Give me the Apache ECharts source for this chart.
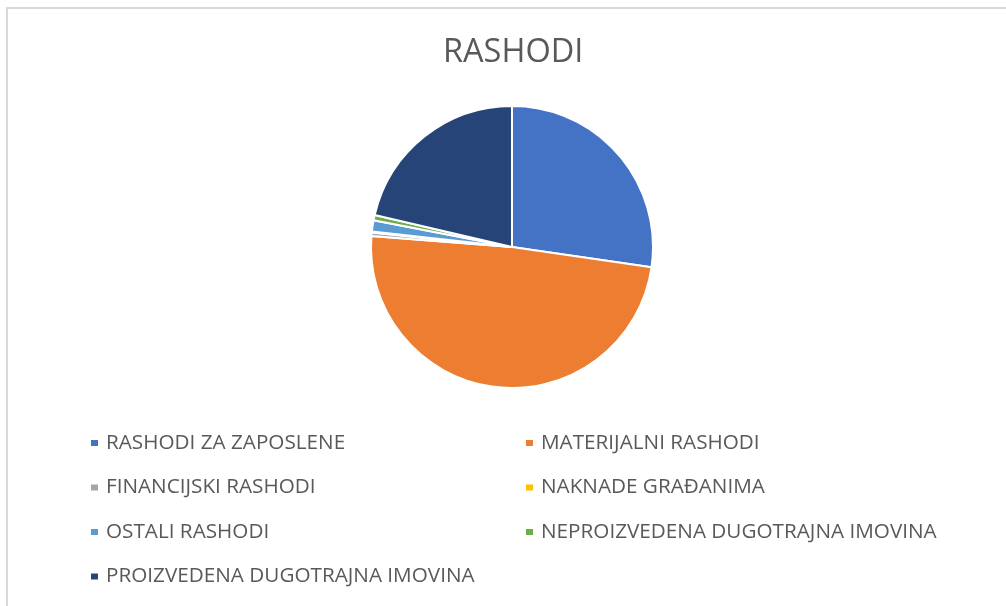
<!DOCTYPE html>
<html>
<head>
<meta charset="utf-8">
<script src="https://cdn.jsdelivr.net/npm/echarts@6/dist/echarts.min.js"></script>
<style>
	html, body { margin: 0; padding: 0; background: #fff; }
	#chart { width: 1006px; height: 606px; }
	.frame {
		position: absolute;
		left: 6px;
		top: 7px;
		right: 0;
		bottom: 0;
		border-left: 2px solid #d9d9d9;
		border-top: 2px solid #d9d9d9;
		pointer-events: none;
	}
</style>
</head>
<body>
<div id="chart"></div>
<div class="frame"></div>
<script>
// kategorije i udjeli (%), očitano sa slike
const categories = [
	'RASHODI ZA ZAPOSLENE',
	'MATERIJALNI RASHODI',
	'FINANCIJSKI RASHODI',
	'NAKNADE GRAĐANIMA',
	'OSTALI RASHODI',
	'NEPROIZVEDENA DUGOTRAJNA IMOVINA',
	'PROIZVEDENA DUGOTRAJNA IMOVINA',
];
const values = [27.3, 48.95, 0.4, 0.1, 1.3, 0.6, 21.35];
const colors = ['#4472C4', '#ED7D31', '#A5A5A5', '#FFC000', '#5B9BD5', '#70AD47', '#264478'];

const leftItems = [categories[0], categories[2], categories[4], categories[6]];
const rightItems = [categories[1], categories[3], categories[5]];

const chart = echarts.init(document.getElementById('chart'));

const legendBase = {
	orient: 'vertical',
	top: 427,
	itemGap: 22.5,
	itemWidth: 9,
	itemHeight: 8,
	icon: 'rect',
	selectedMode: false,
	textStyle: {
		fontFamily: 'Open Sans',
		fontSize: 20.7,
		lineHeight: 22,
		color: '#595959',
		padding: [0, 0, 0, 2],
	},
};

chart.setOption({
	animation: false,
	color: colors,
	title: {
		text: 'RASHODI',
		left: 438,
		top: 31,
		textStyle: {
			fontFamily: 'Open Sans',
			fontSize: 32.5,
			fontWeight: 'normal',
			color: '#595959',
		},
	},
	legend: [
		{ ...legendBase, left: 84, data: leftItems },
		{ ...legendBase, left: 519, data: rightItems },
	],
	series: [
		{
			type: 'pie',
			center: [512, 247],
			radius: 141,
			startAngle: 90,
			clockwise: true,
			label: { show: false },
			labelLine: { show: false },
			emphasis: { disabled: true },
			itemStyle: {
				borderColor: '#fff',
				borderWidth: 2,
			},
			data: categories.map((name, i) => ({ name, value: values[i] })),
		},
	],
});
</script>
</body>
</html>
